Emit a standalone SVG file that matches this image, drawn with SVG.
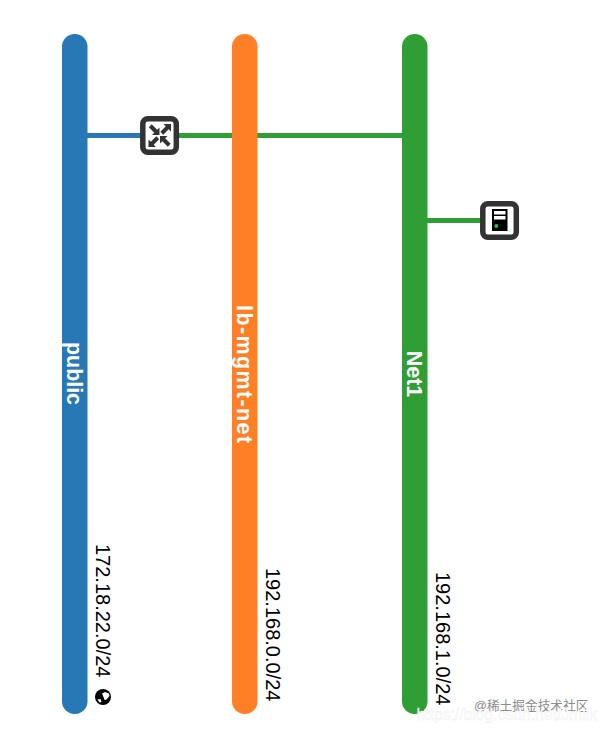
<svg xmlns="http://www.w3.org/2000/svg" width="608" height="732" viewBox="0 0 608 732">
<style>
.name{font:bold 21.4px "Liberation Sans",Arial,sans-serif;fill:#fff;text-anchor:middle}
.cidr{font:20px "Liberation Sans",Arial,sans-serif;fill:#000}
.frame{fill:#fff;stroke:#333;stroke-width:5.5}
.link{stroke-width:5;fill:none}
.wm{font-family:"Liberation Sans","Noto Sans CJK SC",sans-serif}
</style>
<defs>
<path id="arr" d="M5.500 -5.500L5.500 2L3.200 -0.300L-2.300 5.200L-5.200 2.300L0.300 -3.200L-2 -5.500Z" fill="#333"/>
</defs>
<rect width="608" height="732" fill="#fff"/>
<g id="connectors">
<line class="link" x1="87" y1="135.500" x2="142" y2="135.500" stroke="#2878b5"/>
<line class="link" x1="178" y1="135.500" x2="403" y2="135.500" stroke="#2f9e35"/>
<line class="link" x1="427" y1="220.500" x2="482" y2="220.500" stroke="#2f9e35"/>
</g>
<g id="net-public">
<rect x="62" y="34" width="25.500" height="680" rx="12.500" fill="#2878b5"/>
<text class="name" transform="translate(67 373.500) rotate(90)">public</text>
<text class="cidr" transform="translate(96 544) rotate(90)">172.18.22.0/24</text>
<g id="globe">
<circle cx="103" cy="697" r="8" fill="#000"/>
<path d="M102 693.500L105 692L109 693.500L109.500 696L106.500 699.500L104.500 700L103.500 697Z" fill="#fff"/>
<path d="M97.500 699.500L100.500 699L101.500 702L99.500 702.500Z" fill="#fff"/>
</g>
</g>
<g id="net-lb-mgmt-net">
<rect x="232" y="34" width="25.500" height="680" rx="12.500" fill="#ff7f27"/>
<text class="name" transform="translate(237 374) rotate(90)" textLength="138" lengthAdjust="spacing">lb-mgmt-net</text>
<text class="cidr" transform="translate(266 568) rotate(90)">192.168.0.0/24</text>
</g>
<g id="net-Net1">
<rect x="402" y="34" width="25.500" height="680" rx="12.500" fill="#2f9e35"/>
<text class="name" transform="translate(407 374) rotate(90)">Net1</text>
<text class="cidr" transform="translate(436 572) rotate(90)">192.168.1.0/24</text>
</g>
<g id="router">
<rect class="frame" x="142.800" y="118.800" width="33.500" height="33.500" rx="5"/>
<use href="#arr" transform="translate(154 129.500) rotate(90)"/>
<use href="#arr" transform="translate(165.500 129.500)"/>
<use href="#arr" transform="translate(154 141.500) rotate(180)"/>
<use href="#arr" transform="translate(165.500 141.500) rotate(270)"/>
</g>
<g id="server">
<rect class="frame" x="482.800" y="203.800" width="33.500" height="33.500" rx="5"/>
<rect x="492" y="209" width="15.500" height="22" fill="#000"/>
<rect x="494" y="211" width="11.500" height="3.500" fill="#fff"/>
<rect x="494" y="216" width="11.500" height="3.500" fill="#fff"/>
<circle cx="496.300" cy="226" r="2" fill="#3ab54a"/>
</g>
<text class="wm" x="474" y="710" font-size="12.700" fill="#8a8a8a">@稀土掘金技术社区</text>
<text class="wm" x="416.500" y="720" font-size="15.700" fill="#fff" stroke="#e8e8e8" stroke-width="0.300">https://blog.csdn.net/Jmilk</text>
</svg>
